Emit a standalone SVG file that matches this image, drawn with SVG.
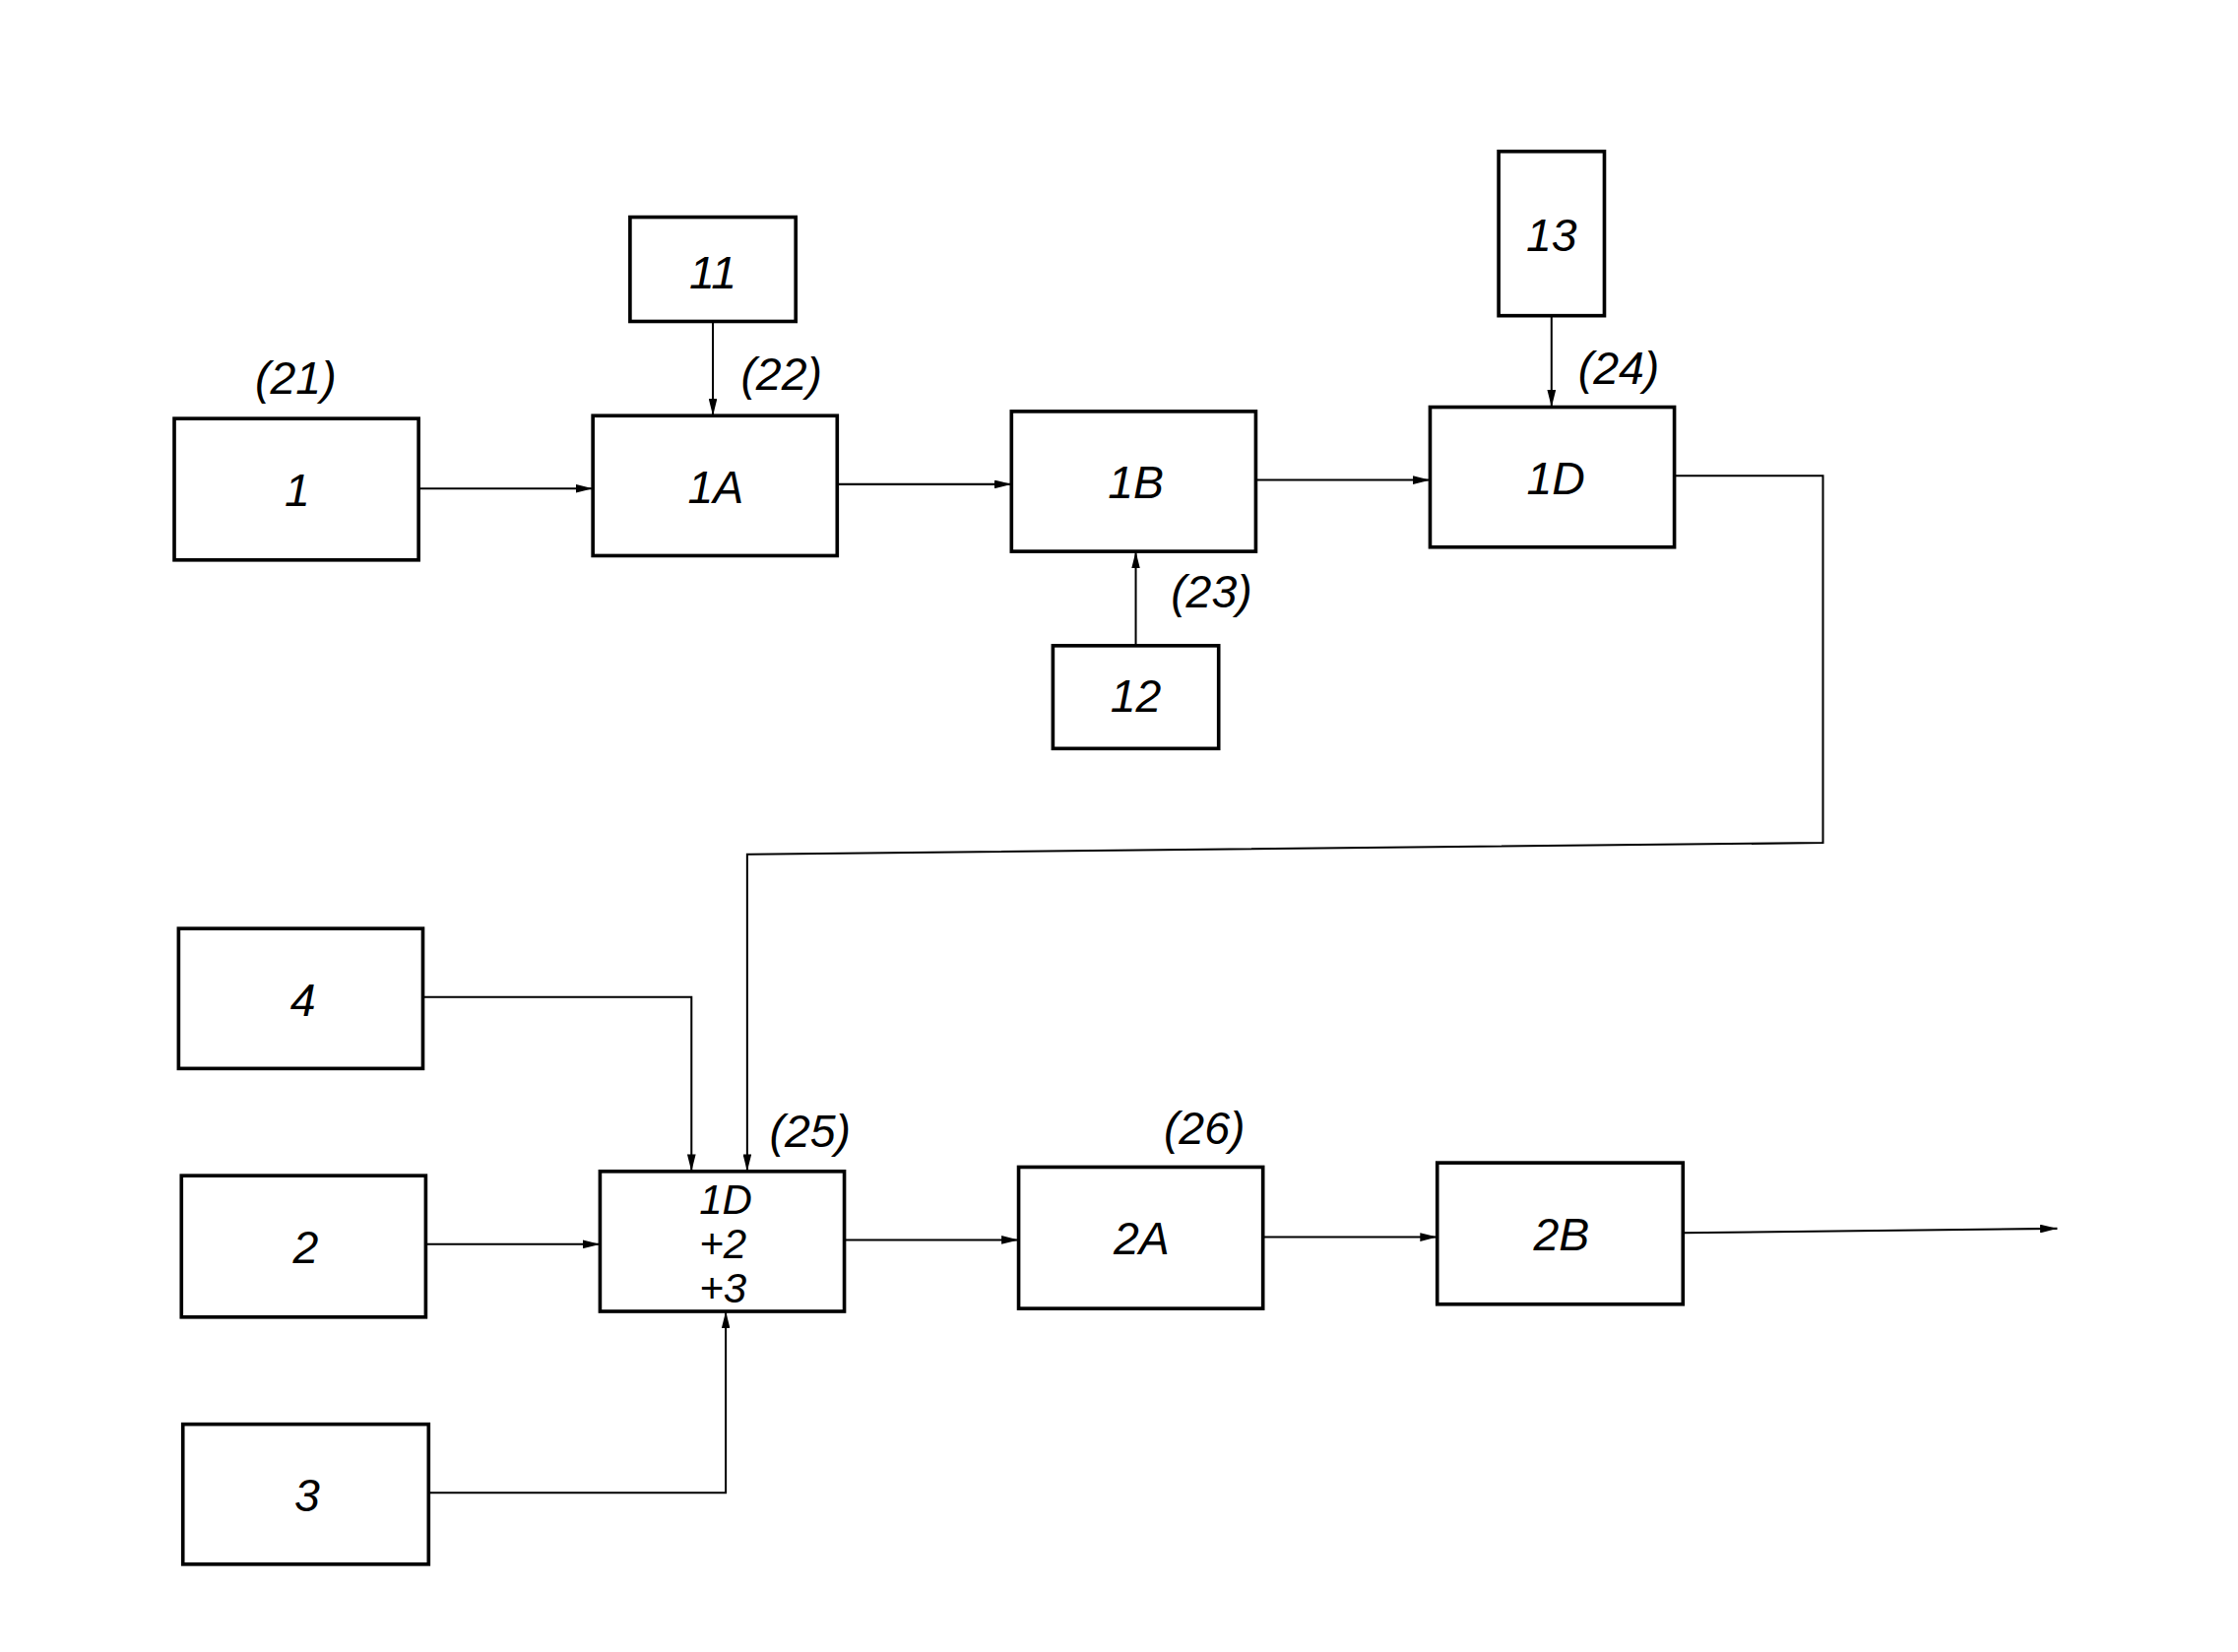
<svg xmlns="http://www.w3.org/2000/svg" width="2273" height="1678" viewBox="0 0 2273 1678">
<defs>
<marker id="a" markerWidth="12" markerHeight="6" refX="12" refY="3" orient="auto" markerUnits="userSpaceOnUse"><path d="M0,0 L12,3 L0,6 z" fill="#000"/></marker>
<style>
.b{fill:#fff;stroke:#000;stroke-width:2.5}
.t{font-family:"Liberation Sans",Arial,sans-serif;font-style:italic;font-size:32px;text-anchor:middle;fill:#000}
.s{font-size:29px}
.l{fill:none;stroke:#000;stroke-width:1.4}
</style>
</defs>
<rect width="2273" height="1678" fill="#fff"/>
<g transform="scale(1.451)">
<g id="connectors">
<path class="l" d="M293,342 H415" marker-end="url(#a)"/>
<path class="l" d="M499,225 V291" marker-end="url(#a)"/>
<path class="l" d="M586,339 H708" marker-end="url(#a)"/>
<path class="l" d="M795,452 V386" marker-end="url(#a)"/>
<path class="l" d="M879,336 H1001" marker-end="url(#a)"/>
<path class="l" d="M1086,221 V285" marker-end="url(#a)"/>
<path class="l" d="M1172,333 H1276 V590 L523,598 V820" marker-end="url(#a)"/>
<path class="l" d="M296,698 H484 V820" marker-end="url(#a)"/>
<path class="l" d="M298,871 H420" marker-end="url(#a)"/>
<path class="l" d="M300,1045 H508 V918" marker-end="url(#a)"/>
<path class="l" d="M591,868 H713" marker-end="url(#a)"/>
<path class="l" d="M884,866 H1006" marker-end="url(#a)"/>
<path class="l" d="M1178,863 L1440,860" marker-end="url(#a)"/>
</g>
<g id="n1"><rect class="b" x="122" y="293" width="171" height="99"/><text class="t" x="208" y="354">1</text></g>
<g id="n1A"><rect class="b" x="415" y="291" width="171" height="98"/><text class="t" x="501" y="352">1A</text></g>
<g id="n1B"><rect class="b" x="708" y="288" width="171" height="98"/><text class="t" x="795" y="349">1B</text></g>
<g id="n1D"><rect class="b" x="1001" y="285" width="171" height="98"/><text class="t" x="1089" y="346">1D</text></g>
<g id="n11"><rect class="b" x="441" y="152" width="116" height="73"/><text class="t" x="499" y="202">11</text></g>
<g id="n12"><rect class="b" x="737" y="452" width="116" height="72"/><text class="t" x="795" y="498">12</text></g>
<g id="n13"><rect class="b" x="1049" y="106" width="74" height="115"/><text class="t" x="1086" y="176">13</text></g>
<g id="n4"><rect class="b" x="125" y="650" width="171" height="98"/><text class="t" x="212" y="711">4</text></g>
<g id="n2"><rect class="b" x="127" y="823" width="171" height="99"/><text class="t" x="214" y="884">2</text></g>
<g id="n3"><rect class="b" x="128" y="997" width="172" height="98"/><text class="t" x="215" y="1058">3</text></g>
<g id="nC"><rect class="b" x="420" y="820" width="171" height="98"/><text class="t s" x="508" y="850">1D</text><text class="t s" x="506" y="881">+2</text><text class="t s" x="506" y="912">+3</text></g>
<g id="n2A"><rect class="b" x="713" y="817" width="171" height="99"/><text class="t" x="799" y="878">2A</text></g>
<g id="n2B"><rect class="b" x="1006" y="814" width="172" height="99"/><text class="t" x="1093" y="875">2B</text></g>
<g id="labels">
<text class="t" x="207" y="276">(21)</text>
<text class="t" x="547" y="273">(22)</text>
<text class="t" x="848" y="425">(23)</text>
<text class="t" x="1133" y="269">(24)</text>
<text class="t" x="567" y="803">(25)</text>
<text class="t" x="843" y="801">(26)</text>
</g>
</g>
</svg>
